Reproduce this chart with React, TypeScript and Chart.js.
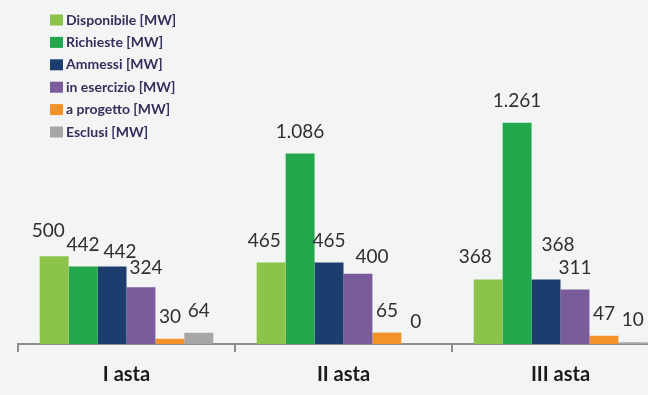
import React, { useEffect, useRef } from "react";
import { Chart, registerables } from "chart.js";

Chart.register(...registerables);

// Auction rounds and the capacity figures (MW) for each of them
const CATEGORIES = ["I asta", "II asta", "III asta"];
const DISPONIBILE = [500, 465, 368];
const RICHIESTE = [442, 1086, 1261];
const AMMESSI = [442, 465, 368];
const IN_ESERCIZIO = [324, 400, 311];
const A_PROGETTO = [30, 65, 47];
const ESCLUSI = [64, 0, 10];

const SERIES_LABELS = [
  "Disponibile [MW]",
  "Richieste [MW]",
  "Ammessi [MW]",
  "in esercizio [MW]",
  "a progetto [MW]",
  "Esclusi [MW]",
];

const SERIES_COLORS = ["#8cc34a", "#22a74c", "#1c3e6e", "#7a5b9c", "#f3922b", "#a6a6a6"];

// Hand-placed value labels: "dataset,index" -> [dx, dy] shift from the default spot
const LABEL_NUDGE: Record<string, [number, number]> = {
  "0,0": [-6, -3],
  "2,0": [8, 7],
  "3,0": [5, 3],
  "0,1": [-7, 0],
  "3,1": [14, 5],
  "0,2": [-13, -1],
  "2,2": [12, -13],
};

const BG = "#f3f5f5";
const LABEL_FONT = '19px Lato, "Liberation Sans", sans-serif';
const AXIS_FONT_FAMILY = 'Lato, "Liberation Sans", sans-serif';

function formatIt(v: number): string {
  return String(v).replace(/\B(?=(\d{3})+(?!\d))/g, ".");
}

const valueLabels = {
  id: "valueLabels",
  afterDatasetsDraw(chart: any) {
    const ctx = chart.ctx;
    ctx.save();
    ctx.font = LABEL_FONT;
    ctx.fillStyle = "#2f2f2f";
    ctx.textAlign = "center";
    ctx.textBaseline = "middle";
    chart.data.datasets.forEach((ds: any, di: number) => {
      const meta = chart.getDatasetMeta(di);
      meta.data.forEach((bar: any, i: number) => {
        const nudge = LABEL_NUDGE[`${di},${i}`] || [0, 0];
        ctx.fillText(formatIt(ds.data[i]), bar.x + nudge[0], bar.y - 22 + nudge[1]);
      });
    });
    ctx.restore();
  },
};

const stackedLegend = {
  id: "stackedLegend",
  afterDraw(chart: any) {
    const ctx = chart.ctx;
    ctx.save();
    ctx.font = `bold 14px ${AXIS_FONT_FAMILY}`;
    ctx.textAlign = "left";
    ctx.textBaseline = "middle";
    chart.data.datasets.forEach((ds: any, i: number) => {
      const y = 20 + i * 22.4;
      ctx.fillStyle = ds.backgroundColor;
      ctx.fillRect(50, y - 5.5, 13, 11);
      ctx.fillStyle = "#342f5b";
      ctx.fillText(ds.label, 66, y);
    });
    ctx.restore();
  },
};

export default function App() {
  const canvasRef = useRef<HTMLCanvasElement | null>(null);

  useEffect(() => {
    if (!canvasRef.current) return;
    const seriesValues = [DISPONIBILE, RICHIESTE, AMMESSI, IN_ESERCIZIO, A_PROGETTO, ESCLUSI];
    const chart = new Chart(canvasRef.current, {
      type: "bar",
      data: {
        labels: CATEGORIES,
        datasets: seriesValues.map((values, i) => ({
          label: SERIES_LABELS[i],
          data: values,
          backgroundColor: SERIES_COLORS[i],
          borderWidth: 0,
          categoryPercentage: 0.8,
          barPercentage: 1.0,
        })),
      },
      options: {
        animation: false,
        responsive: false,
        maintainAspectRatio: false,
        layout: { padding: { left: 18, right: 11, top: 30, bottom: 0 } },
        plugins: {
          legend: { display: false },
          tooltip: { enabled: false },
        },
        scales: {
          x: {
            grid: {
              offset: true,
              drawOnChartArea: false,
              drawTicks: true,
              tickLength: 8,
              color: "#8c8c8c",
              lineWidth: 2,
            },
            border: { display: true, color: "#8c8c8c", width: 2 },
            ticks: {
              color: "#1a1a1a",
              font: { family: AXIS_FONT_FAMILY, size: 20, weight: "bold" },
              padding: 11,
              maxRotation: 0,
            },
            afterFit: (scale: any) => {
              scale.height = 51;
            },
          },
          y: {
            display: false,
            min: 0,
            max: 1790,
          },
        },
      },
      plugins: [valueLabels, stackedLegend],
    });
    return () => chart.destroy();
  }, []);

  return (
    <div
      style={{
        position: "fixed",
        left: 0,
        top: 0,
        width: 648,
        height: 395,
        overflow: "hidden",
        background: BG,
      }}
    >
      <canvas ref={canvasRef} width={680} height={395} style={{ display: "block" }} />
    </div>
  );
}
